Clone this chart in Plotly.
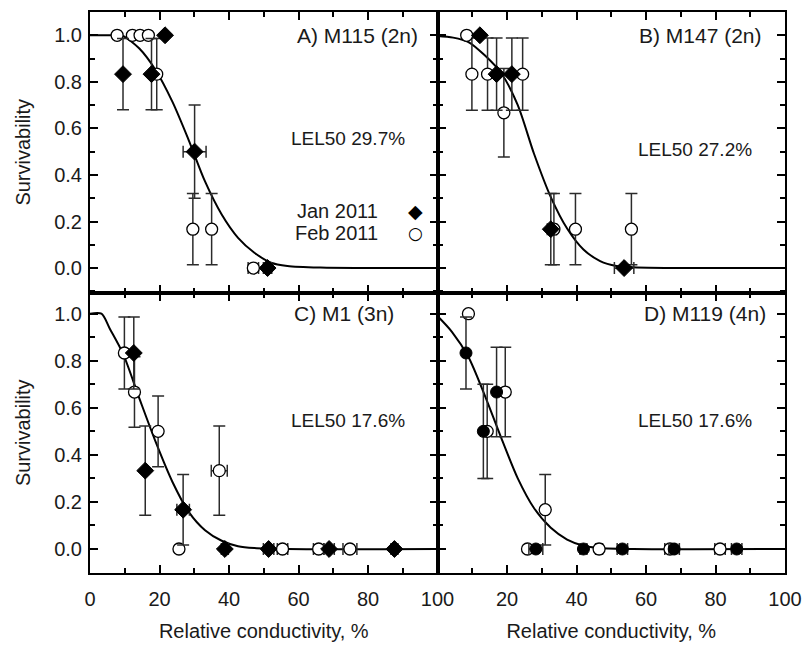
import plotly.graph_objects as go
from plotly.subplots import make_subplots

# ---------------- data ----------------
# Panel A) M115 (2n)
a_jan_x = [9.5, 17.7, 21.6, 30.1, 51.1]
a_jan_y = [0.833, 0.833, 1.0, 0.5, 0.0]
a_jan_ey = [0.153, 0.153, 0.0, 0.2, 0.0]
a_jan_ex = [0, 0, 0, 3.3, 1.2]
a_feb_x = [7.8, 12.2, 14.4, 16.8, 19.2, 29.6, 35.0, 47.0]
a_feb_y = [1.0, 1.0, 1.0, 1.0, 0.833, 0.167, 0.167, 0.0]
a_feb_ey = [0, 0, 0, 0, 0.153, 0.153, 0.153, 0]
a_feb_ex = [0, 0, 0, 0, 0, 0, 0, 1.5]
a_fit_x = [0, 7.6, 9.5, 14.2, 18.9, 23.7, 28.4, 33.1, 37.9, 42.6, 47.3, 52.1, 56.8, 66.3, 80, 100]
a_fit_y = [1.0, 1.0, 0.997, 0.943, 0.85, 0.715, 0.55, 0.372, 0.23, 0.13, 0.066, 0.023, 0.009, 0.002, 0.0, 0.0]

# Panel B) M147 (2n)
b_jan_x = [12.2, 17.0, 21.4, 32.6, 53.7]
b_jan_y = [1.0, 0.833, 0.833, 0.167, 0.0]
b_jan_ey = [0, 0.155, 0.155, 0.153, 0]
b_jan_ex = [0, 0, 0, 1.0, 2.8]
b_feb_x = [8.4, 9.9, 14.4, 19.1, 24.5, 33.5, 39.7, 55.8]
b_feb_y = [1.0, 0.833, 0.833, 0.667, 0.833, 0.167, 0.167, 0.167]
b_feb_ey = [0, 0.155, 0.155, 0.19, 0.155, 0.153, 0.153, 0.153]
b_feb_ex = [0, 0, 0, 0, 0, 0.8, 0, 0]
b_fit_x = [0, 4.5, 8.9, 13.6, 18.4, 23.1, 27.8, 32.6, 37.3, 42.0, 46.8, 51.5, 56.2, 75.2, 100]
b_fit_y = [0.997, 0.99, 0.971, 0.914, 0.836, 0.70, 0.49, 0.305, 0.17, 0.08, 0.03, 0.009, 0.004, 0.0, 0.0]

# Panel C) M1 (3n)
c_jan_x = [12.6, 15.9, 26.8, 38.8, 51.4, 68.8, 87.6]
c_jan_y = [0.833, 0.333, 0.167, 0.0, 0.0, 0.0, 0.0]
c_jan_ey = [0.153, 0.19, 0.15, 0, 0, 0, 0]
c_jan_ex = [0, 0, 1.8, 1.0, 1.5, 1.5, 1.0]
c_feb_x = [9.9, 12.8, 19.6, 25.6, 37.2, 55.4, 65.8, 74.8]
c_feb_y = [0.833, 0.667, 0.5, 0.0, 0.333, 0.0, 0.0, 0.0]
c_feb_ey = [0.153, 0.15, 0.15, 0, 0.19, 0, 0, 0]
c_feb_ex = [0, 0, 0, 0, 2.3, 1.5, 1.5, 2.0]
c_fit_x = [0, 3.3, 5.7, 9.5, 14.2, 18.9, 23.7, 28.4, 33.1, 37.9, 42.6, 47.3, 56.8, 100]
c_fit_y = [1.0, 1.0, 0.936, 0.83, 0.64, 0.455, 0.286, 0.158, 0.08, 0.035, 0.012, 0.004, 0.0, 0.0]

# Panel D) M119 (4n)
d_jan_x = [8.2, 13.2, 17.0, 28.3, 42.0, 53.2, 68.1, 86.1]
d_jan_y = [0.833, 0.5, 0.667, 0.0, 0.0, 0.0, 0.0, 0.0]
d_jan_ey = [0.153, 0.2, 0.19, 0, 0, 0, 0, 0]
d_jan_ex = [0, 0, 0, 2.0, 1.0, 1.5, 1.5, 1.5]
d_feb_x = [8.9, 14.3, 19.5, 25.9, 31.0, 46.5, 66.9, 81.3]
d_feb_y = [1.0, 0.5, 0.667, 0.0, 0.167, 0.0, 0.0, 0.0]
d_feb_ey = [0, 0.2, 0.19, 0, 0.15, 0, 0, 0]
d_feb_ex = [0, 0, 0, 0, 0, 1.0, 1.5, 1.5]
d_fit_x = [0, 4.2, 8.9, 13.6, 18.4, 23.1, 27.8, 32.6, 37.3, 42.0, 46.8, 56.2, 100]
d_fit_y = [0.99, 0.922, 0.816, 0.653, 0.47, 0.30, 0.173, 0.09, 0.04, 0.014, 0.004, 0.0, 0.0]

panel_titles = ["A) M115 (2n)", "B) M147 (2n)", "C) M1 (3n)", "D) M119 (4n)"]
lel50 = ["LEL50 29.7%", "LEL50 27.2%", "LEL50 17.6%", "LEL50 17.6%"]
legend_labels = ["Jan 2011", "Feb 2011"]
x_ticks_left = [0, 20, 40, 60, 80, 100]
x_ticks_right = [20, 40, 60, 80, 100]
y_ticks = [0.0, 0.2, 0.4, 0.6, 0.8, 1.0]

FONT = "Arial, Liberation Sans, Helvetica, sans-serif"
TXT = "#1a1a1a"
ERRC = "#2b2b2b"

fig = make_subplots(rows=2, cols=2, horizontal_spacing=0, vertical_spacing=0)

panels = [
    (1, 1, a_jan_x, a_jan_y, a_jan_ey, a_jan_ex, a_feb_x, a_feb_y, a_feb_ey, a_feb_ex, a_fit_x, a_fit_y, "diamond"),
    (1, 2, b_jan_x, b_jan_y, b_jan_ey, b_jan_ex, b_feb_x, b_feb_y, b_feb_ey, b_feb_ex, b_fit_x, b_fit_y, "diamond"),
    (2, 1, c_jan_x, c_jan_y, c_jan_ey, c_jan_ex, c_feb_x, c_feb_y, c_feb_ey, c_feb_ex, c_fit_x, c_fit_y, "diamond"),
    (2, 2, d_jan_x, d_jan_y, d_jan_ey, d_jan_ex, d_feb_x, d_feb_y, d_feb_ey, d_feb_ex, d_fit_x, d_fit_y, "circle"),
]


def errd(arr):
    return dict(type="data", array=arr, visible=True, color=ERRC, thickness=1.5, width=6)


for (r, c, jx, jy, jey, jex, fx, fy, fey, fex, cx, cy, jsym) in panels:
    fig.add_trace(go.Scatter(x=cx, y=cy, mode="lines", line=dict(color="black", width=2, shape="spline", smoothing=0.8),
                             showlegend=False, hoverinfo="skip"), row=r, col=c)
    fig.add_trace(go.Scatter(x=fx, y=fy, mode="markers", error_y=errd(fey), error_x=errd(fex),
                             marker=dict(symbol="circle", size=12, color="white", line=dict(color="black", width=1.3)),
                             showlegend=False, name=legend_labels[1]), row=r, col=c)
    fig.add_trace(go.Scatter(x=jx, y=jy, mode="markers", error_y=errd(jey), error_x=errd(jex),
                             marker=dict(symbol=jsym, size=13 if jsym == "diamond" else 12, color="black",
                                         line=dict(color="black", width=1)),
                             showlegend=False, name=legend_labels[0]), row=r, col=c)

axis_common = dict(showline=True, linecolor="black", linewidth=2, mirror="ticks", ticks="inside",
                   ticklen=8, tickwidth=1.5, tickcolor="black", showgrid=False, zeroline=False,
                   tickfont=dict(family=FONT, size=20, color=TXT))

for r in (1, 2):
    for c in (1, 2):
        xa = dict(axis_common, range=[0, 100], tickmode="array", ticklabelstandoff=7,
                  minor=dict(ticks="inside", ticklen=5, tickwidth=1.5, tickcolor="black", dtick=10, tick0=0, showgrid=False))
        if r == 2:
            xa["tickvals"] = x_ticks_left if c == 1 else x_ticks_right
            xa["ticktext"] = [str(v) for v in xa["tickvals"]]
            xa["title"] = dict(text="Relative conductivity, %", font=dict(family=FONT, size=20, color=TXT), standoff=15)
        else:
            xa["tickvals"] = x_ticks_left
            xa["showticklabels"] = False
        fig.update_xaxes(row=r, col=c, **xa)
        ya = dict(axis_common, range=[-0.105, 1.1] if r == 1 else [-0.102, 1.09], tickmode="array",
                  tickvals=y_ticks, ticktext=["%.1f" % v for v in y_ticks], ticklabelstandoff=2,
                  minor=dict(ticks="inside", ticklen=5, tickwidth=1.5, tickcolor="black", dtick=0.1, tick0=0, showgrid=False))
        if c == 1:
            ya["title"] = dict(text="Survivability", font=dict(family=FONT, size=20, color=TXT), standoff=18)
        else:
            ya["showticklabels"] = False
        fig.update_yaxes(row=r, col=c, **ya)

# panel labels and LEL50 text
ann_font = dict(family=FONT, size=21, color=TXT)
title_pos = [(95, 1.0), (94, 1.0), (88, 1.0), (95, 1.0)]
lel_pos = [(74.2, 0.555), (74.0, 0.508), (74.2, 0.547), (74.0, 0.547)]
refs = [("x", "y"), ("x2", "y2"), ("x3", "y3"), ("x4", "y4")]
for i in range(4):
    xr, yr = refs[i]
    fig.add_annotation(x=title_pos[i][0], y=title_pos[i][1], xref=xr, yref=yr, text=panel_titles[i],
                       showarrow=False, xanchor="right", yanchor="middle", font=ann_font)
    fig.add_annotation(x=lel_pos[i][0], y=lel_pos[i][1], xref=xr, yref=yr, text=lel50[i],
                       showarrow=False, xanchor="center", yanchor="middle", font=dict(family=FONT, size=19, color=TXT))

# legend (text followed by symbol) in panel A
leg_y = [0.247, 0.151]
leg_sym = ["\u25C6", "\u25CB"]
leg_sym_size = [19, 17]
for i in range(2):
    fig.add_annotation(x=83.5, y=leg_y[i], xref="x", yref="y", text=legend_labels[i], showarrow=False,
                       xanchor="right", yanchor="middle", font=dict(family=FONT, size=20, color=TXT))
    fig.add_annotation(x=93.7, y=leg_y[i], xref="x", yref="y", text=leg_sym[i], showarrow=False,
                       xanchor="center", yanchor="middle", borderpad=0,
                       font=dict(family="DejaVu Sans", size=leg_sym_size[i], color="black"))

fig.update_layout(width=812, height=649, margin=dict(l=90, r=18, t=10, b=76),
                  paper_bgcolor="white", plot_bgcolor="white", showlegend=False)

fig.write_html("out.html")
